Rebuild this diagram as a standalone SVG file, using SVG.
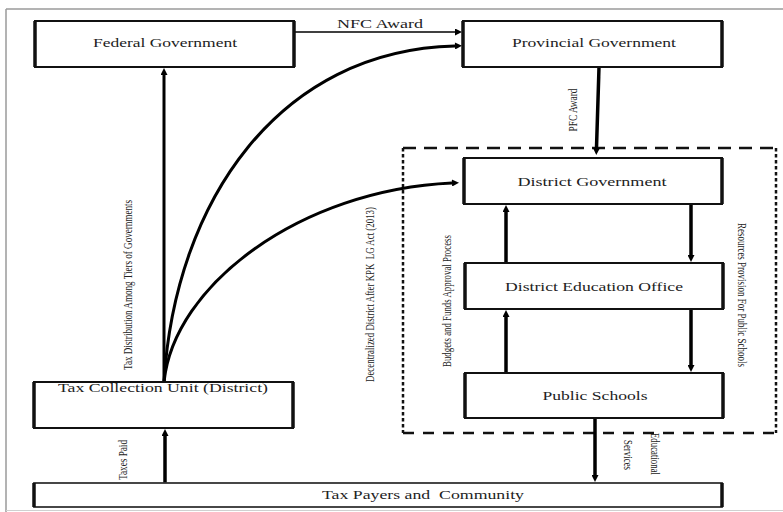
<svg xmlns="http://www.w3.org/2000/svg" width="783" height="512" viewBox="0 0 783 512">
<style>
.box{fill:#fff;stroke:#111;stroke-width:2}
.side{stroke:#111;stroke-width:3.5}
.t{font-family:"Liberation Serif","Times New Roman",serif;font-size:13px;fill:#222;text-anchor:middle}
.r{font-family:"Liberation Serif","Times New Roman",serif;font-size:13px;fill:#222;text-anchor:middle;dominant-baseline:central}
.c{fill:none;stroke:#000;stroke-width:3;marker-end:url(#ah)}
.thin{fill:none;stroke:#000;stroke-width:1.5;marker-end:url(#ah)}
.frame{stroke:#9a9a9a;stroke-width:1.5}
</style>
<defs>
<marker id="ah" viewBox="0 0 10 10" refX="0" refY="5" markerUnits="userSpaceOnUse" markerWidth="8" markerHeight="7" orient="auto">
<path d="M0,0 L10,5 L0,10 z" fill="#000"/>
</marker>
</defs>
<rect width="783" height="512" fill="#fff"/>
<g id="frame">
<line class="frame" x1="6" y1="9" x2="783" y2="9"/>
<line class="frame" x1="6" y1="9" x2="6" y2="512"/>
<line x1="6" y1="510.5" x2="783" y2="510.5" stroke="#d0d0d0" stroke-width="1"/>
</g>
<g id="district-boundary" fill="none" stroke="#111" stroke-width="2.5">
<line x1="403" y1="148" x2="776" y2="148" stroke-dasharray="13 8"/>
<line x1="403" y1="433" x2="776" y2="433" stroke-dasharray="11 9"/>
<line x1="403" y1="148" x2="403" y2="433" stroke-dasharray="3.5 2.5"/>
<line x1="776" y1="148" x2="776" y2="433" stroke-dasharray="3.5 2.5"/>
</g>
<g id="connectors">
<line class="c" x1="164" y1="382" x2="164" y2="75"/>
<path class="c" d="M164,382 C175,200 280,50 455,46"/>
<path class="c" d="M164,382 C174,285 300,190 452,183"/>
<line class="thin" x1="294" y1="32" x2="455" y2="32"/>
<line class="c" x1="599" y1="67" x2="596.5" y2="148" style="stroke-width:3.5"/>
<line class="c" x1="506" y1="263" x2="506" y2="212" style="stroke-width:3.5"/>
<line class="c" x1="506" y1="373" x2="506" y2="317" style="stroke-width:3.5"/>
<line class="c" x1="691" y1="204" x2="691" y2="255" style="stroke-width:3.5"/>
<line class="c" x1="691" y1="309" x2="691" y2="365" style="stroke-width:3.5"/>
<line class="c" x1="595" y1="418" x2="595" y2="475" style="stroke-width:3.5"/>
<line class="c" x1="165" y1="483" x2="165" y2="436" style="stroke-width:3.5"/>
</g>
<g id="labels">
<text class="t" x="380" y="28" textLength="86" lengthAdjust="spacingAndGlyphs">NFC Award</text>
<text class="r" transform="translate(572,110) rotate(-90)" textLength="43" lengthAdjust="spacingAndGlyphs">PFC Award</text>
<text class="r" transform="translate(127,285) rotate(-90)" textLength="170" lengthAdjust="spacingAndGlyphs">Tax Distribution Among Tiers of Governments</text>
<text class="r" transform="translate(369,294.5) rotate(-90)" textLength="175" lengthAdjust="spacingAndGlyphs" xml:space="preserve">Decentralized District After KPK  LG Act (2013)</text>
<text class="r" transform="translate(446,301) rotate(-90)" textLength="132" lengthAdjust="spacingAndGlyphs">Budgets and Funds Approval Process</text>
<text class="r" transform="translate(742,295) rotate(90)" textLength="144" lengthAdjust="spacingAndGlyphs">Resources Provision For Public Schools</text>
<text class="r" transform="translate(122,460) rotate(-90)" textLength="40" lengthAdjust="spacingAndGlyphs">Taxes Paid</text>
<text class="r" transform="translate(655,454) rotate(90)" textLength="42" lengthAdjust="spacingAndGlyphs">Educational</text>
<text class="r" transform="translate(628,455) rotate(90)" textLength="30" lengthAdjust="spacingAndGlyphs">Services</text>
</g>
<g id="federal-government">
<rect class="box" x="35" y="21" width="259" height="46"/>
<line class="side" x1="35" y1="21" x2="35" y2="67"/><line class="side" x1="294" y1="21" x2="294" y2="67"/>
<text class="t" x="165" y="47" textLength="144" lengthAdjust="spacingAndGlyphs">Federal Government</text>
</g>
<g id="provincial-government">
<rect class="box" x="463" y="21" width="259" height="46"/>
<line class="side" x1="463" y1="21" x2="463" y2="67"/><line class="side" x1="722" y1="21" x2="722" y2="67"/>
<text class="t" x="594" y="47" textLength="164" lengthAdjust="spacingAndGlyphs">Provincial Government</text>
</g>
<g id="district-government">
<rect class="box" x="464" y="158" width="258" height="46"/>
<line class="side" x1="464" y1="158" x2="464" y2="204"/><line class="side" x1="722" y1="158" x2="722" y2="204"/>
<text class="t" x="592" y="186" textLength="149" lengthAdjust="spacingAndGlyphs">District Government</text>
</g>
<g id="district-education-office">
<rect class="box" x="465" y="263" width="258" height="46"/>
<line class="side" x1="465" y1="263" x2="465" y2="309"/><line class="side" x1="723" y1="263" x2="723" y2="309"/>
<text class="t" x="594" y="291" textLength="178" lengthAdjust="spacingAndGlyphs">District Education Office</text>
</g>
<g id="public-schools">
<rect class="box" x="465" y="373" width="258" height="45"/>
<line class="side" x1="465" y1="373" x2="465" y2="418"/><line class="side" x1="723" y1="373" x2="723" y2="418"/>
<text class="t" x="595" y="400" textLength="105" lengthAdjust="spacingAndGlyphs">Public Schools</text>
</g>
<g id="tax-collection-unit">
<rect class="box" x="34" y="382" width="259" height="46"/>
<line class="side" x1="34" y1="382" x2="34" y2="428"/><line class="side" x1="293" y1="382" x2="293" y2="428"/>
<text class="t" x="163" y="392" textLength="210" lengthAdjust="spacingAndGlyphs">Tax Collection Unit (District)</text>
</g>
<g id="tax-payers-community">
<rect x="34" y="483" width="688" height="24" fill="#fff" stroke="#333" stroke-width="1.8"/>
<line class="side" x1="34" y1="483" x2="34" y2="507"/><line class="side" x1="722" y1="483" x2="722" y2="507"/>
<text class="t" x="423" y="499" textLength="202" lengthAdjust="spacingAndGlyphs" xml:space="preserve">Tax Payers and  Community</text>
</g>
</svg>
